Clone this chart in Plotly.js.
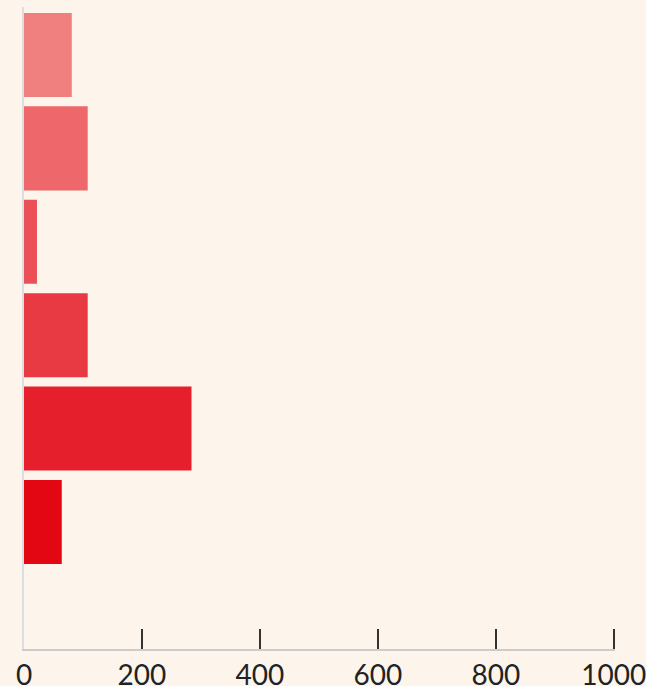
<!DOCTYPE html>
<html>
<head>
<meta charset="utf-8">
<script src="https://cdn.plot.ly/plotly-3.0.1.min.js"></script>
<style>
  html, body { margin: 0; padding: 0; background: #fdf5eb; }
  #chart { width: 646px; height: 686px; }
</style>
</head>
<body>
<div id="chart"></div>
<script>
// Data
const categories = ["A", "B", "C", "D", "E", "F"];
const values = [81, 108, 22, 108, 284, 64];
const tickValues = [0, 200, 400, 600, 800, 1000];
const tickLabels = ["0", "200", "400", "600", "800", "1000"];
const barColors = ["#f08080", "#ee676b", "#eb5058", "#e83a43", "#e5202c", "#e30613"];

const trace = {
  type: "bar",
  orientation: "h",
  y: categories,
  x: values,
  marker: { color: barColors, line: { width: 0 } },
  hoverinfo: "x",
  showlegend: false
};

// invisible helper trace so the tick-mark axis (x2) is drawn
const tickTrace = {
  type: "scatter",
  mode: "markers",
  x: [0],
  y: [categories[0]],
  xaxis: "x2",
  yaxis: "y",
  marker: { opacity: 0, size: 1 },
  hoverinfo: "skip",
  showlegend: false
};

const layout = {
  width: 646,
  height: 686,
  paper_bgcolor: "#fdf5eb",
  plot_bgcolor: "#fdf5eb",
  margin: { l: 24, r: 31, t: 7, b: 37 },
  bargap: 0.1,
  font: { family: "Lato, 'Open Sans', sans-serif", size: 28, color: "#222222" },
  xaxis: {
    range: [0, 1002],
    tickvals: tickValues,
    ticktext: tickLabels,
    ticks: "",
    ticklabeloverflow: "allow",
    showline: true,
    linecolor: "#cccccc",
    linewidth: 2,
    showgrid: false,
    zeroline: false,
    fixedrange: true
  },
  xaxis2: {
    overlaying: "x",
    anchor: "y",
    side: "bottom",
    range: [0, 1002],
    tickvals: tickValues.slice(1),
    ticks: "inside",
    ticklen: 20,
    tickwidth: 2,
    tickcolor: "#333333",
    showticklabels: false,
    showline: false,
    showgrid: false,
    zeroline: false
  },
  yaxis: {
    type: "category",
    range: [6.36, -0.514],
    showticklabels: false,
    ticks: "",
    showline: true,
    linecolor: "#dddddd",
    linewidth: 2,
    showgrid: false,
    zeroline: false,
    fixedrange: true
  }
};

Plotly.newPlot("chart", [trace, tickTrace], layout, { displayModeBar: false, staticPlot: true });
</script>
</body>
</html>
